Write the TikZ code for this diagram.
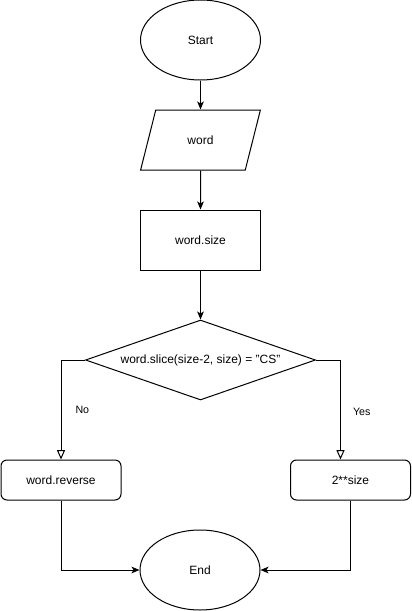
\documentclass[tikz,border=0pt]{standalone}
\usepackage{fontspec}
\setmainfont{Liberation Sans}
\usetikzlibrary{shapes.geometric,arrows.meta}
\begin{document}
\begin{tikzpicture}
[x=0.75pt,y=-0.75pt,
  every node/.style={font=\fontsize{9}{11}\selectfont,line width=0.75pt},%
  terminaldecorate/.style={shape=ellipse,draw,minimum width=90pt,minimum height=60pt},%
  inputdecorate/.style={shape=trapezium,draw,trapezium left angle=71.57,
    trapezium right angle=108.43,trapezium stretches=true,
    minimum width=90pt,minimum height=45pt},%
  processdecorate/.style={shape=rectangle,draw,minimum width=90pt,minimum height=45pt},%
  resultdecorate/.style={shape=rectangle,draw,rounded corners=4.5pt,
    minimum width=90pt,minimum height=30pt},%
  decisiondecorate/.style={shape=diamond,draw,aspect=2.875,inner sep=1pt,
    minimum width=172.5pt,minimum height=60pt},%
  linedecorate/.style={-{Stealth[length=6pt,width=5pt,inset=1.5pt]},line width=0.75pt},%
  opendecorate/.style={-{Triangle[open,length=7pt,width=6pt]},line width=0.75pt},%
  labeldecorate/.style={font=\fontsize{8}{10}\selectfont,inner sep=0pt}]
\useasboundingbox (0,0) rectangle (411,611);
%% nodes or vertices
\node (start) at (200.5,40) [terminaldecorate] {Start};
\node (word) at (200.5,140) [inputdecorate] {word};
\node (wsize) at (200.5,240) [processdecorate] {word.size};
\node (check) at (200.5,360) [decisiondecorate] {word.slice(size-2, size) = "CS"};
\node (reverse) at (61,480) [resultdecorate] {word.reverse};
\node (power) at (350.5,480) [resultdecorate] {2**size};
\node (end) at (200,570) [terminaldecorate] {End};
%% edges or lines
\path
\foreach \startnode/\endnode in {start/word, word/wsize, wsize/check} {
  (\startnode) edge[linedecorate] (\endnode)
};
\draw[opendecorate] (check.west) -| (reverse.north)
  node[pos=0.75,right=10.5pt,labeldecorate] {No};
\draw[opendecorate] (check.east) -| ([xshift=-7.5pt]power.north)
  node[pos=0.76,right=9pt,labeldecorate] {Yes};
\draw[linedecorate] (reverse.south) |- (end.west);
\draw[linedecorate] (power.south) |- (end.east);
\end{tikzpicture}
\end{document}
